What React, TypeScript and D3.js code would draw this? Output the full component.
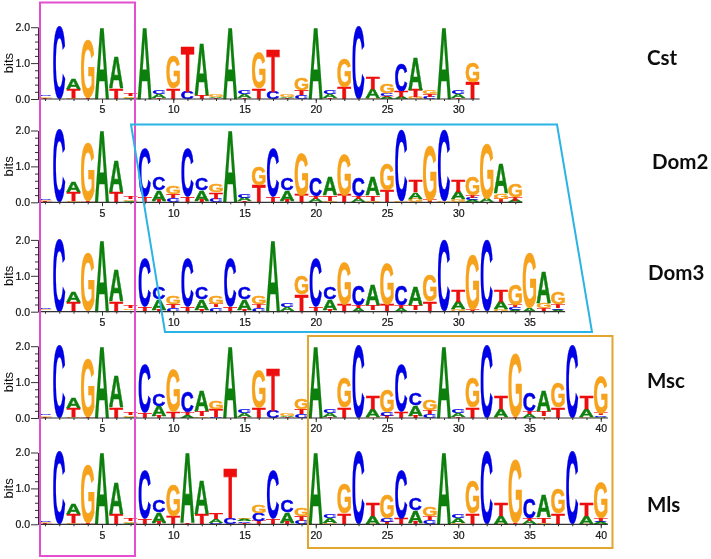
import { useEffect, useRef } from 'react'
import * as d3 from 'd3'

// stacks read bottom to top, letter followed by its height in bits
const head = ['T.04 G.03 C.03', 'C2.03', 'G.03 T.25 A.3', 'T.03 G1.62', 'A2', 'T.3 A.86', 'A.04 G.05 T.06']

const cstStacks = [...head,
  'A2', 'T.03 A.1 C.11', 'T.3 G.9', 'C.2 T1.26', 'T.12 A1.46', 'T.03 A.03 G.06', 'A2', 'T.03 A.1 C.11',
  'T.3 G1', 'C.2 T1.2', 'T.03 A.03 G.06', 'C.12 T.13 G.32', 'A2', 'T.03 A.1 C.11', 'T.32 G.8', 'C2.03',
  'G.02 A.25 T.33', 'A.05 T.04 C.07 G.26', 'A.05 T.17 C.76', 'G.06 T.2 A.9', 'C.06 T.07 G.1', 'A2',
  'T.03 A.1 C.11', 'T.46 G.54']

const dom2Stacks = [...head,
  'T.15 C1.37', 'T.05 A.3 C.36', 'C.12 T.12 G.2', 'T.15 C1.37', 'T.05 A.3 C.33', 'C.1 T.17 G.22', 'A2',
  'T.03 A.1 C.12', 'T.48 G.52', 'T.15 C1.37', 'T.05 A.3 C.33', 'T.2 G1.18', 'A.1 T.08 C.52', 'G.05 T.15 A.52',
  'T.2 G1.12', 'A.1 T.08 C.52', 'G.05 T.15 A.5', 'T.32 G.72', 'G.03 C1.97', 'G.1 A.18 T.32', 'T.05 G1.55',
  'G.03 C1.97', 'G.08 A.2 T.32', 'A.06 C.07 T.06 G.5', 'A.1 G1.55', 'T.1 G.15 A.84', 'A.05 T.1 G.35']

const dom3Stacks = [...head,
  'T.15 C1.37', 'T.05 A.3 C.33', 'C.1 T.12 G.2', 'T.15 C1.37', 'T.05 A.3 C.33', 'C.12 T.1 G.2', 'T.15 C1.37',
  'T.05 A.3 C.33', 'C.1 T.1 G.22', 'A2', 'T.03 A.1 C.12', 'T.48 G.52', 'T.15 C1.37', 'T.05 A.3 C.33',
  'T.2 G1.17', 'A.1 T.08 C.54', 'G.05 T.15 A.58', 'T.2 G1.12', 'A.1 T.08 C.55', 'G.05 T.15 A.5', 'T.3 G.72',
  'G.03 C1.97', 'G.08 A.2 T.32', 'T.05 G1.55', 'G.03 C1.97', 'G.08 A.2 T.31', 'A.06 C.07 T.06 G.58',
  'A.1 G1.55', 'T.1 G.15 A.85', 'A.05 C.05 T.1 G.33']

const mscStacks = [...head,
  'T.15 C1.37', 'T.05 A.28 C.33', 'T.18 G1.18', 'A.08 T.07 C.58', 'G.05 T.15 A.58', 'C.04 T.2 G.21', 'A2',
  'T.03 A.1 C.12', 'T.28 G1.03', 'C.2 T1.2', 'T.03 A.03 G.06', 'C.1 T.15 G.3', 'A2', 'T.03 A.1 C.12',
  'T.3 G.85', 'C2', 'G.02 A.22 T.36', 'T.05 C.12 G.61', 'T.17 C1.33', 'T.05 A.3 C.33', 'C.12 T.1 G.28', 'A2',
  'T.03 A.1 C.12', 'T.3 G.85', 'C2', 'G.02 A.22 T.36', 'T.03 G1.75', 'A.1 T.08 C.52', 'G.05 T.15 A.58',
  'T.3 G.7', 'C2', 'G.02 A.22 T.36', 'A.03 C.05 T.05 G1.02']

const mlsStacks = [...head,
  'T.15 C1.37', 'T.05 A.3 C.33', 'T.22 G.88', 'T.03 A1.97', 'T.28 A.92', 'C.04 A.1 T.16', 'C.17 T1.37',
  'T.03 C.05 A.06 G.04', 'T.1 C.2 G.2', 'T.15 C1.37', 'T.05 A.3 C.33', 'C.1 T.13 G.2', 'A2', 'G.03 A.13 C.12',
  'T.3 G.85', 'C2', 'G.02 A.22 T.36', 'T.05 C.12 G.64', 'T.17 C1.35', 'T.05 A.33 C.32', 'C.12 T.1 G.25', 'A2',
  'G.03 A.13 C.12', 'T.3 G.9', 'C2', 'G.02 A.22 T.36', 'T.03 G1.75', 'A.1 T.08 C.55', 'G.05 T.15 A.6',
  'T.3 G.7', 'C2', 'G.02 A.22 T.36', 'A.05 C.05 T.05 G1']

const logoNames = ['Cst', 'Dom2', 'Dom3', 'Msc', 'Mls']
const logoStacks = [cstStacks, dom2Stacks, dom3Stacks, mscStacks, mlsStacks]
const baselines = [99, 202.3, 311.7, 418, 524.3]
const nameX = [647, 652, 648, 647, 647]
const nameY = [58, 162, 273, 381, 505]
const xLabels = [5, 10, 15, 20, 25, 30, 35, 40]
const yMajor = [0, 1, 2]
const yMinor = [0.2, 0.4, 0.6, 0.8, 1.2, 1.4, 1.6, 1.8]

const letterColor: Record<string, string> = { A: '#0a7f0a', C: '#0505e6', G: '#f7a21b', T: '#ee1111' }
const letterWidth: Record<string, number> = { A: 14, C: 12, G: 13.3, T: 13.3 }

const pxPerBit = 35.9
const fontStack = '"Liberation Sans", Arial, sans-serif'

function parseStack(s: string) {
  return s.split(' ').map(part => ({ letter: part[0], bits: +part.slice(1) }))
}

export default function App() {
  const ref = useRef<SVGSVGElement>(null)

  useEffect(() => {
    const svg = d3.select(ref.current)
    svg.selectAll('*').remove()

    // ink box of each letter, so a stack fills exactly its height
    const ctx = document.createElement('canvas').getContext('2d')!
    ctx.font = `bold 100px ${fontStack}`
    const ink: Record<string, TextMetrics> = {}
    for (const l of 'ACGT') ink[l] = ctx.measureText(l)

    const defs = svg.append('defs')
    defs.append('filter').attr('id', 'soft').append('feGaussianBlur').attr('stdDeviation', 0.35)

    const root = svg.append('g').attr('filter', 'url(#soft)')

    logoStacks.forEach((stacks, li) => {
      const base = baselines[li]
      const x = d3.scaleLinear().domain([5, 10]).range([102, 173.25])
      const y = d3.scaleLinear().domain([0, 2]).range([base, base - 2 * pxPerBit])
      const g = root.append('g')
      const xEnd = x(stacks.length + 0.5)

      // letters
      stacks.forEach((s, i) => {
        let acc = 0
        for (const { letter, bits } of parseStack(s)) {
          const m = ink[letter]
          const inkW = m.actualBoundingBoxRight + m.actualBoundingBoxLeft
          const inkH = m.actualBoundingBoxAscent + m.actualBoundingBoxDescent
          const w = letterWidth[letter]
          const sx = w / inkW
          const sy = (y(acc) - y(acc + bits)) / inkH
          g.append('text')
            .attr('transform', `translate(${x(i + 1) - w / 2},${y(acc)}) scale(${sx},${sy}) translate(${m.actualBoundingBoxLeft},${-m.actualBoundingBoxDescent})`)
            .attr('font-family', fontStack).attr('font-weight', 'bold').attr('font-size', 100)
            .attr('fill', letterColor[letter])
            .attr('stroke', letterColor[letter]).attr('stroke-width', 0.5)
            .attr('vector-effect', 'non-scaling-stroke')
            .text(letter)
          acc += bits
        }
      })

      // axes
      const styleAxis = (a: any) => {
        a.selectAll('line').attr('stroke', '#333')
        a.selectAll('path').attr('stroke', '#333')
        a.selectAll('text').attr('fill', '#111').attr('font-size', 10.5).attr('font-family', fontStack)
          .attr('stroke', '#111').attr('stroke-width', 0.2)
      }
      g.append('g').attr('transform', 'translate(38,0)')
        .call(d3.axisLeft(y).tickValues(yMinor).tickSize(3).tickSizeOuter(0).tickFormat(() => ''))
        .call(styleAxis)
      g.append('g').attr('transform', 'translate(38,0)')
        .call(d3.axisLeft(y).tickValues(yMajor).tickSize(7).tickSizeOuter(0).tickPadding(1).tickFormat(d3.format('.1f') as any))
        .call(styleAxis)

      g.append('path').attr('d', `M38,${base}H${xEnd}`)
        .attr('stroke', '#333').attr('stroke-width', 1.2).attr('fill', 'none')
      g.append('g').attr('transform', `translate(0,${base})`)
        .call(d3.axisBottom(x).tickValues(d3.range(1, stacks.length + 1)).tickSize(2).tickSizeOuter(0).tickFormat(() => ''))
        .call(styleAxis).call(a => a.select('.domain').remove())
      g.append('g').attr('transform', `translate(0,${base})`)
        .call(d3.axisBottom(x).tickValues(xLabels.filter(v => v <= stacks.length)).tickSize(4).tickSizeOuter(0).tickPadding(3).tickFormat(d3.format('d') as any))
        .call(styleAxis).call(a => a.select('.domain').remove())

      g.append('text')
        .attr('transform', `translate(8,${base - pxPerBit}) rotate(-90)`)
        .attr('text-anchor', 'middle').attr('dy', '0.35em')
        .attr('font-family', fontStack).attr('font-size', 13).attr('fill', '#111')
        .text('bits')

      root.append('text')
        .attr('x', nameX[li]).attr('y', nameY[li]).attr('dy', '0.35em')
        .attr('font-family', 'Lato, sans-serif').attr('font-weight', 'bold').attr('font-size', 20.5)
        .attr('fill', '#111')
        .text(logoNames[li])
    })

    // annotation boxes
    root.append('rect').attr('x', 40).attr('y', 2.5).attr('width', 95).attr('height', 553.5)
      .attr('fill', 'none').attr('stroke', '#e44fd0').attr('stroke-width', 2)
    root.append('path').attr('d', 'M131,124.5H557L592,332H165Z')
      .attr('fill', 'none').attr('stroke', '#2cb4e6').attr('stroke-width', 2)
    root.append('rect').attr('x', 308).attr('y', 336).attr('width', 304.5).attr('height', 212)
      .attr('fill', 'none').attr('stroke', '#e2a52f').attr('stroke-width', 2)
  }, [])

  return (
    <svg ref={ref} width={711} height={559} viewBox="0 0 711 559"
      style={{ position: 'absolute', left: 0, top: 0, background: '#fff' }} />
  )
}
